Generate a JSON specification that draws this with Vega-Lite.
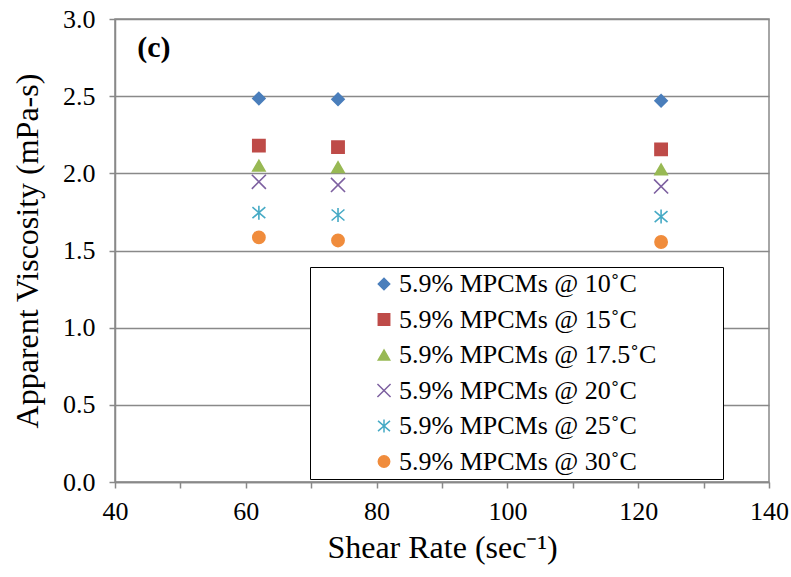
{
  "$schema": "https://vega.github.io/schema/vega-lite/v6.json",
  "width": 654,
  "height": 463,
  "padding": {"left": 115, "top": 19, "right": 22, "bottom": 95},
  "autosize": {"type": "none"},
  "background": "white",
  "config": {
    "font": "Liberation Serif",
    "view": {"stroke": "#898989", "strokeWidth": 1.5},
    "axis": {
      "labelFont": "Liberation Serif",
      "titleFont": "Liberation Serif",
      "labelColor": "#000000",
      "titleColor": "#000000",
      "titleFontWeight": "normal",
      "domainColor": "#898989",
      "domainWidth": 1.5,
      "tickColor": "#898989",
      "tickWidth": 1.5,
      "gridColor": "#898989",
      "gridWidth": 1.5
    }
  },
  "data": {
    "values": [
      {"rate": 62.0, "visc": 2.485, "series": "5.9% MPCMs @ 10˚C"},
      {"rate": 74.1, "visc": 2.48, "series": "5.9% MPCMs @ 10˚C"},
      {"rate": 123.5, "visc": 2.47, "series": "5.9% MPCMs @ 10˚C"},
      {"rate": 62.0, "visc": 2.18, "series": "5.9% MPCMs @ 15˚C"},
      {"rate": 74.1, "visc": 2.17, "series": "5.9% MPCMs @ 15˚C"},
      {"rate": 123.5, "visc": 2.155, "series": "5.9% MPCMs @ 15˚C"},
      {"rate": 62.0, "visc": 2.05, "series": "5.9% MPCMs @ 17.5˚C"},
      {"rate": 74.1, "visc": 2.04, "series": "5.9% MPCMs @ 17.5˚C"},
      {"rate": 123.5, "visc": 2.025, "series": "5.9% MPCMs @ 17.5˚C"},
      {"rate": 62.0, "visc": 1.945, "series": "5.9% MPCMs @ 20˚C"},
      {"rate": 74.1, "visc": 1.925, "series": "5.9% MPCMs @ 20˚C"},
      {"rate": 123.5, "visc": 1.915, "series": "5.9% MPCMs @ 20˚C"},
      {"rate": 62.0, "visc": 1.745, "series": "5.9% MPCMs @ 25˚C"},
      {"rate": 74.1, "visc": 1.73, "series": "5.9% MPCMs @ 25˚C"},
      {"rate": 123.5, "visc": 1.72, "series": "5.9% MPCMs @ 25˚C"},
      {"rate": 62.0, "visc": 1.585, "series": "5.9% MPCMs @ 30˚C"},
      {"rate": 74.1, "visc": 1.565, "series": "5.9% MPCMs @ 30˚C"},
      {"rate": 123.5, "visc": 1.555, "series": "5.9% MPCMs @ 30˚C"}
    ]
  },
  "layer": [
    {
      "mark": {"type": "point", "filled": true, "size": 150, "strokeWidth": 1.6, "opacity": 1},
      "encoding": {
        "x": {
          "field": "rate", "type": "quantitative",
          "scale": {"domain": [40, 140], "nice": false, "zero": false},
          "axis": {
            "values": [40, 50, 60, 70, 80, 90, 100, 110, 120, 130, 140],
            "labelExpr": "datum.value % 20 == 0 ? datum.label : ''",
            "labelFlush": false,
            "grid": false,
            "tickSize": 6,
            "labelFontSize": 26,
            "labelPadding": 10,
            "title": "Shear Rate (sec⁻¹)",
            "titleFontSize": 32,
            "titlePadding": 8
          }
        },
        "y": {
          "field": "visc", "type": "quantitative",
          "scale": {"domain": [0, 3], "nice": false},
          "axis": {
            "values": [0, 0.25, 0.5, 0.75, 1, 1.25, 1.5, 1.75, 2, 2.25, 2.5, 2.75, 3],
            "labelExpr": "datum.value % 0.5 == 0 ? format(datum.value, '.1f') : ''",
            "labelFlush": false,
            "gridOpacity": {"condition": {"test": "datum.value % 0.5 == 0", "value": 1}, "value": 0},
            "tickSize": 6,
            "labelFontSize": 26,
            "labelPadding": 14,
            "title": "Apparent Viscosity (mPa-s)",
            "titleFontSize": 32,
            "titlePadding": 18
          }
        },
        "color": {
          "field": "series", "type": "nominal",
          "scale": {"range": ["#4A7EBB", "#BE4B48", "#98B954", "#7D60A0", "#46AAC5", "#F08C3C"]},
          "legend": {
            "title": ".",
            "titleOrient": "right",
            "titleColor": "white",
            "titlePadding": 60,
            "titleFontSize": 10,
            "orient": "none",
            "legendX": 195,
            "legendY": 248,
            "strokeColor": "#000000",
            "fillColor": "white",
            "padding": 4,
            "symbolOffset": 57,
            "labelFontSize": 26,
            "labelFont": "Liberation Serif",
            "labelColor": "#000000",
            "labelLimit": 500,
            "symbolSize": 130,
            "rowPadding": 9.5,
            "labelOffset": 2
          }
        },
        "stroke": {
          "field": "series", "type": "nominal",
          "scale": {"range": ["#4A7EBB", "#BE4B48", "#98B954", "#7D60A0", "#46AAC5", "#F08C3C"]},
          "legend": null
        },
        "shape": {
          "field": "series", "type": "nominal",
          "scale": {"range": ["diamond", "square", "triangle-up", "M-1.15,-1.15L1.15,1.15M-1.15,1.15L1.15,-1.15", "M-1.05,-0.9L1.05,0.9M-1.05,0.9L1.05,-0.9M0,-1.15L0,1.15", "circle"]}
        }
      }
    },
    {
      "data": {"values": [{"rate": 43.4, "visc": 2.815, "label": "(c)"}]},
      "mark": {"type": "text", "font": "Liberation Serif", "fontWeight": "bold", "fontSize": 30, "align": "left", "baseline": "middle", "color": "#000000"},
      "encoding": {
        "x": {"field": "rate", "type": "quantitative"},
        "y": {"field": "visc", "type": "quantitative"},
        "text": {"field": "label"}
      }
    }
  ]
}
